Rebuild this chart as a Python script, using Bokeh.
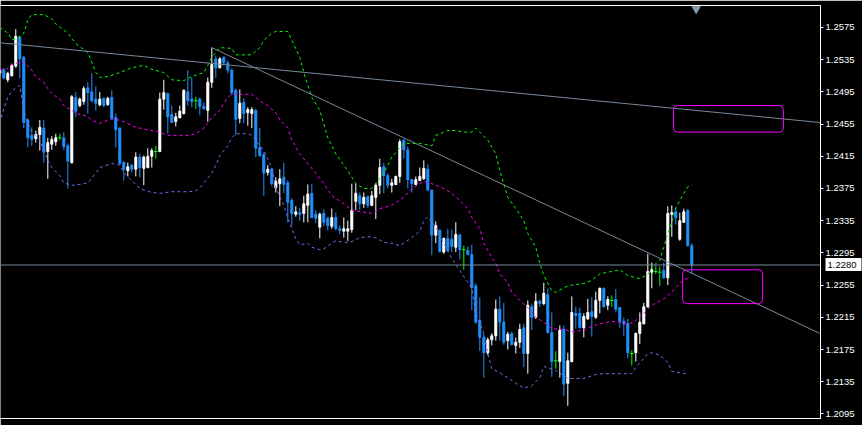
from bokeh.plotting import figure
from bokeh.models import (LinearAxis, FixedTicker, Span, BoxAnnotation,
                          ColumnDataSource, PrintfTickFormatter, Range1d)
from bokeh.embed import file_html
from bokeh.resources import INLINE

# ---------------- data ----------------
open_ = [
    1.2518, 1.2522, 1.2510, 1.2515, 1.2527, 1.2563, 1.2538, 1.2460, 1.2441, 1.2437,
    1.2442, 1.2450, 1.2421, 1.2430, 1.2433, 1.2438, 1.2438, 1.2428, 1.2407, 1.2488,
    1.2478, 1.2483, 1.2500, 1.2495, 1.2486, 1.2479, 1.2487, 1.2479, 1.2488, 1.2463,
    1.2450, 1.2407, 1.2397, 1.2404, 1.2399, 1.2414, 1.2400, 1.2401, 1.2415, 1.2421,
    1.2421, 1.2486, 1.2493, 1.2467, 1.2458, 1.2463, 1.2468, 1.2495, 1.2486, 1.2484,
    1.2486, 1.2477, 1.2472, 1.2507, 1.2536, 1.2525, 1.2538, 1.2531, 1.2522, 1.2497,
    1.2462, 1.2482, 1.2469, 1.2468, 1.2472, 1.2426, 1.2417, 1.2395, 1.2399, 1.2376,
    1.2381, 1.2389, 1.2382, 1.2360, 1.2343, 1.2345, 1.2344, 1.2354, 1.2369, 1.2343,
    1.2327, 1.2344, 1.2338, 1.2328, 1.2339, 1.2325, 1.2322, 1.2322, 1.2324, 1.2359,
    1.2366, 1.2356, 1.2365, 1.2354, 1.2364, 1.2379, 1.2402, 1.2391, 1.2379, 1.2380,
    1.2390, 1.2435, 1.2423, 1.2386, 1.2380, 1.2385, 1.2387, 1.2399, 1.2373, 1.2317,
    1.2323, 1.2296, 1.2313, 1.2312, 1.2302, 1.2317, 1.2299, 1.2298, 1.2293, 1.2254,
    1.2211, 1.2190, 1.2171, 1.2187, 1.2192, 1.2225, 1.2209, 1.2186, 1.2195, 1.2180,
    1.2184, 1.2202, 1.2170, 1.2228, 1.2215, 1.2235, 1.2232, 1.2243, 1.2196, 1.2161,
    1.2160, 1.2200, 1.2133, 1.2160, 1.2220, 1.2220, 1.2202, 1.2213, 1.2222, 1.2215,
    1.2236, 1.2251, 1.2230, 1.2236, 1.2237, 1.2227, 1.2210, 1.2207, 1.2170, 1.2171,
    1.2195, 1.2207, 1.2228, 1.2271, 1.2272, 1.2271, 1.2273, 1.2264, 1.2343, 1.2346,
    1.2312, 1.2333, 1.2348, 1.2304]

high = [
    1.2524, 1.2525, 1.2520, 1.2530, 1.2573, 1.2565, 1.2540, 1.2462, 1.2451, 1.2447,
    1.2460, 1.2460, 1.2438, 1.2440, 1.2443, 1.2443, 1.2445, 1.2431, 1.2491, 1.2495,
    1.2488, 1.2502, 1.2507, 1.2518, 1.2502, 1.2495, 1.2488, 1.2489, 1.2497, 1.2468,
    1.2451, 1.2409, 1.2407, 1.2405, 1.2420, 1.2418, 1.2416, 1.2425, 1.2425, 1.2428,
    1.2494, 1.2510, 1.2494, 1.2478, 1.2469, 1.2478, 1.2498, 1.2522, 1.2513, 1.2489,
    1.2488, 1.2482, 1.2513, 1.2550, 1.2540, 1.2538, 1.2539, 1.2534, 1.2524, 1.2499,
    1.2498, 1.2487, 1.2476, 1.2476, 1.2474, 1.2450, 1.2420, 1.2404, 1.2401, 1.2389,
    1.2399, 1.2407, 1.2385, 1.2363, 1.2353, 1.2351, 1.2366, 1.2380, 1.2381, 1.2348,
    1.2345, 1.2349, 1.2340, 1.2350, 1.2345, 1.2329, 1.2339, 1.2335, 1.2381, 1.2381,
    1.2370, 1.2370, 1.2366, 1.2372, 1.2382, 1.2412, 1.2407, 1.2394, 1.2387, 1.2391,
    1.2436, 1.2436, 1.2427, 1.2387, 1.2390, 1.2401, 1.2410, 1.2405, 1.2374, 1.2334,
    1.2324, 1.2314, 1.2325, 1.2324, 1.2333, 1.2319, 1.2304, 1.2303, 1.2305, 1.2257,
    1.2240, 1.2195, 1.2190, 1.2195, 1.2237, 1.2241, 1.2233, 1.2197, 1.2197, 1.2190,
    1.2207, 1.2207, 1.2236, 1.2232, 1.2245, 1.2237, 1.2258, 1.2251, 1.2221, 1.2173,
    1.2205, 1.2205, 1.2171, 1.2241, 1.2228, 1.2227, 1.2220, 1.2238, 1.2240, 1.2247,
    1.2252, 1.2252, 1.2241, 1.2242, 1.2250, 1.2228, 1.2215, 1.2213, 1.2174, 1.2196,
    1.2221, 1.2233, 1.2294, 1.2283, 1.2279, 1.2278, 1.2283, 1.2353, 1.2354, 1.2351,
    1.2345, 1.2350, 1.2349, 1.2307]

low = [
    1.2515, 1.2511, 1.2507, 1.2514, 1.2525, 1.2512, 1.2450, 1.2426, 1.2428, 1.2432,
    1.2422, 1.2407, 1.2387, 1.2423, 1.2428, 1.2435, 1.2423, 1.2375, 1.2406, 1.2464,
    1.2476, 1.2479, 1.2468, 1.2482, 1.2472, 1.2477, 1.2476, 1.2478, 1.2461, 1.2426,
    1.2405, 1.2385, 1.2390, 1.2395, 1.2390, 1.2389, 1.2379, 1.2400, 1.2401, 1.2412,
    1.2420, 1.2473, 1.2443, 1.2456, 1.2452, 1.2462, 1.2467, 1.2478, 1.2476, 1.2474,
    1.2466, 1.2473, 1.2458, 1.2500, 1.2512, 1.2524, 1.2528, 1.2518, 1.2491, 1.2441,
    1.2456, 1.2456, 1.2453, 1.2450, 1.2414, 1.2414, 1.2366, 1.2391, 1.2378, 1.2370,
    1.2353, 1.2369, 1.2333, 1.2329, 1.2340, 1.2335, 1.2333, 1.2333, 1.2338, 1.2332,
    1.2313, 1.2328, 1.2323, 1.2325, 1.2323, 1.2318, 1.2314, 1.2310, 1.2320, 1.2348,
    1.2348, 1.2351, 1.2351, 1.2353, 1.2337, 1.2368, 1.2369, 1.2375, 1.2370, 1.2379,
    1.2382, 1.2412, 1.2375, 1.2370, 1.2379, 1.2384, 1.2386, 1.2372, 1.2292, 1.2307,
    1.2295, 1.2294, 1.2296, 1.2296, 1.2296, 1.2287, 1.2274, 1.2292, 1.2224, 1.2207,
    1.2173, 1.2140, 1.2168, 1.2180, 1.2186, 1.2186, 1.2181, 1.2175, 1.2180, 1.2170,
    1.2177, 1.2153, 1.2145, 1.2199, 1.2213, 1.2228, 1.2230, 1.2195, 1.2141, 1.2151,
    1.2140, 1.2117, 1.2105, 1.2159, 1.2201, 1.2201, 1.2190, 1.2212, 1.2191, 1.2213,
    1.2220, 1.2227, 1.2224, 1.2228, 1.2221, 1.2202, 1.2192, 1.2164, 1.2155, 1.2160,
    1.2182, 1.2206, 1.2227, 1.2251, 1.2269, 1.2254, 1.2263, 1.2255, 1.2315, 1.2330,
    1.2310, 1.2332, 1.2303, 1.2269]

close = [
    1.2522, 1.2512, 1.2518, 1.2528, 1.2564, 1.2536, 1.2457, 1.2438, 1.2436, 1.2442,
    1.2451, 1.2420, 1.2432, 1.2436, 1.2438, 1.2438, 1.2427, 1.2409, 1.2489, 1.2471,
    1.2486, 1.2499, 1.2494, 1.2484, 1.2481, 1.2486, 1.2478, 1.2487, 1.2462, 1.2448,
    1.2406, 1.2399, 1.2402, 1.2399, 1.2414, 1.2401, 1.2414, 1.2415, 1.2422, 1.2421,
    1.2486, 1.2494, 1.2464, 1.2457, 1.2464, 1.2471, 1.2497, 1.2484, 1.2483, 1.2484,
    1.2477, 1.2474, 1.2507, 1.2529, 1.2525, 1.2536, 1.2531, 1.2522, 1.2494, 1.2461,
    1.2481, 1.2468, 1.2473, 1.2473, 1.2425, 1.2416, 1.2394, 1.2399, 1.2381, 1.2384,
    1.2387, 1.2380, 1.2358, 1.2344, 1.2346, 1.2343, 1.2356, 1.2368, 1.2339, 1.2338,
    1.2343, 1.2333, 1.2329, 1.2339, 1.2325, 1.2323, 1.2325, 1.2325, 1.2348, 1.2369,
    1.2356, 1.2364, 1.2354, 1.2366, 1.2379, 1.2401, 1.2391, 1.2379, 1.2382, 1.2390,
    1.2433, 1.2423, 1.2386, 1.2381, 1.2386, 1.2390, 1.2400, 1.2373, 1.2317, 1.2329,
    1.2297, 1.2313, 1.2298, 1.2303, 1.2318, 1.2299, 1.2299, 1.2293, 1.2252, 1.2209,
    1.2190, 1.2171, 1.2187, 1.2192, 1.2225, 1.2209, 1.2184, 1.2194, 1.2181, 1.2184,
    1.2200, 1.2170, 1.2230, 1.2215, 1.2235, 1.2232, 1.2245, 1.2196, 1.2160, 1.2161,
    1.2199, 1.2132, 1.2161, 1.2221, 1.2217, 1.2202, 1.2216, 1.2221, 1.2216, 1.2236,
    1.2251, 1.2228, 1.2237, 1.2236, 1.2225, 1.2210, 1.2207, 1.2171, 1.2170, 1.2195,
    1.2209, 1.2228, 1.2272, 1.2274, 1.2272, 1.2271, 1.2264, 1.2344, 1.2345, 1.2339,
    1.2335, 1.2346, 1.2304, 1.2280]

# Bollinger-type bands (read at selected bars)
upper_idx = [0, 2, 3, 4, 6, 7, 8, 11, 13, 14, 17, 19, 22, 23, 24, 25, 27, 30, 33, 36,
             38, 41, 43, 46, 48, 51, 52, 53, 55, 58, 59, 63, 65, 66, 68, 69, 72, 73, 75, 76,
             78, 80, 82, 84, 87, 89, 91, 93, 96, 98, 101, 105, 108, 109, 112, 114, 116, 118, 119, 122,
             124, 125, 126, 127, 129, 131, 132, 134, 135, 136, 138, 139, 141, 143, 146, 148, 150, 153, 155, 157,
             160, 162, 163, 165, 166, 167, 168, 169, 171, 172, 173]
upper_val = [1.2575, 1.2568, 1.2560, 1.2560, 1.2568, 1.2584, 1.2591, 1.2591, 1.2586, 1.2579,
             1.2568, 1.2555, 1.2544, 1.2532, 1.2519, 1.2513, 1.2514, 1.2519, 1.2525, 1.2528,
             1.2523, 1.2519, 1.2510, 1.2509, 1.2514, 1.2519, 1.2528, 1.2538, 1.2550, 1.2549,
             1.2541, 1.2541, 1.2550, 1.2559, 1.2568, 1.2570, 1.2570, 1.2559, 1.2538, 1.2519,
             1.2488, 1.2472, 1.2438, 1.2418, 1.2397, 1.2381, 1.2375, 1.2375, 1.2394, 1.2414,
             1.2431, 1.2431, 1.2428, 1.2441, 1.2447, 1.2447, 1.2445, 1.2445, 1.2450, 1.2435,
             1.2418, 1.2397, 1.2381, 1.2364, 1.2350, 1.2335, 1.2319, 1.2302, 1.2282, 1.2267,
             1.2248, 1.2246, 1.2252, 1.2255, 1.2257, 1.2261, 1.2269, 1.2272, 1.2274, 1.2267,
             1.2263, 1.2268, 1.2277, 1.2286, 1.2302, 1.2319, 1.2333, 1.2351, 1.2369, 1.2377,
             1.2379]

mid_idx = [0, 2, 3, 5, 6, 8, 9, 11, 12, 13, 15, 16, 18, 19, 21, 22, 23, 25, 26, 28,
           29, 31, 33, 34, 37, 40, 42, 47, 49, 51, 52, 53, 55, 56, 57, 58, 63, 65, 67, 69,
           70, 72, 73, 75, 77, 79, 81, 83, 86, 88, 93, 95, 98, 101, 103, 105, 106, 108, 111, 113,
           115, 117, 118, 120, 121, 123, 124, 125, 127, 128, 130, 132, 134, 136, 138, 141, 143, 146, 148, 150,
           153, 155, 157, 159, 161, 163, 166, 168, 170, 171, 172]
mid_val = [1.2522, 1.2524, 1.2529, 1.2532, 1.2532, 1.2522, 1.2514, 1.2507, 1.2499, 1.2493,
           1.2486, 1.2478, 1.2472, 1.2468, 1.2466, 1.2464, 1.2460, 1.2456, 1.2458, 1.2461,
           1.2461, 1.2458, 1.2453, 1.2451, 1.2448, 1.2445, 1.2441, 1.2441, 1.2443, 1.2450,
           1.2456, 1.2463, 1.2472, 1.2481, 1.2488, 1.2492, 1.2492, 1.2484, 1.2478, 1.2469,
           1.2460, 1.2450, 1.2435, 1.2418, 1.2406, 1.2394, 1.2381, 1.2366, 1.2356, 1.2348,
           1.2344, 1.2350, 1.2354, 1.2364, 1.2375, 1.2381, 1.2384, 1.2381, 1.2375, 1.2369,
           1.2360, 1.2350, 1.2339, 1.2325, 1.2307, 1.2289, 1.2282, 1.2269, 1.2258, 1.2246,
           1.2236, 1.2227, 1.2215, 1.2209, 1.2201, 1.2200, 1.2197, 1.2199, 1.2204, 1.2207,
           1.2210, 1.2209, 1.2206, 1.2211, 1.2220, 1.2230, 1.2238, 1.2246, 1.2257, 1.2262,
           1.2263]

lower_idx = [0, 1, 2, 3, 4, 5, 6, 7, 8, 10, 11, 12, 13, 15, 16, 18, 20, 22, 24, 25,
             28, 30, 31, 33, 35, 38, 40, 43, 47, 49, 50, 51, 53, 54, 55, 57, 58, 59, 62, 63,
             64, 66, 68, 69, 71, 72, 73, 74, 75, 77, 78, 80, 81, 83, 84, 86, 88, 90, 92, 94,
             96, 98, 100, 101, 103, 105, 106, 107, 109, 111, 113, 115, 118, 119, 121, 122, 123, 125, 127, 129,
             131, 133, 135, 136, 139, 142, 146, 149, 151, 158, 159, 161, 162, 163, 165, 167, 168, 171, 172]
lower_val = [1.2456, 1.2474, 1.2488, 1.2496, 1.2500, 1.2503, 1.2472, 1.2456, 1.2445, 1.2435,
             1.2422, 1.2410, 1.2401, 1.2391, 1.2382, 1.2379, 1.2380, 1.2382, 1.2394, 1.2401,
             1.2406, 1.2404, 1.2395, 1.2385, 1.2375, 1.2370, 1.2369, 1.2371, 1.2371, 1.2372,
             1.2376, 1.2382, 1.2394, 1.2404, 1.2416, 1.2428, 1.2438, 1.2443, 1.2443, 1.2441,
             1.2435, 1.2422, 1.2401, 1.2376, 1.2354, 1.2338, 1.2325, 1.2313, 1.2305, 1.2307,
             1.2302, 1.2299, 1.2300, 1.2307, 1.2310, 1.2308, 1.2309, 1.2314, 1.2315, 1.2314,
             1.2308, 1.2307, 1.2304, 1.2307, 1.2314, 1.2322, 1.2335, 1.2340, 1.2327, 1.2307,
             1.2288, 1.2273, 1.2251, 1.2220, 1.2195, 1.2170, 1.2151, 1.2146, 1.2140, 1.2133,
             1.2127, 1.2130, 1.2140, 1.2154, 1.2149, 1.2139, 1.2139, 1.2144, 1.2145, 1.2145,
             1.2153, 1.2164, 1.2170, 1.2171, 1.2168, 1.2159, 1.2148, 1.2145, 1.2146]

# drawn objects
trend1_idx = [0, 205]
trend1_val = [1.2556, 1.2457]
trend2_idx = [53, 205]
trend2_val = [1.2550, 1.2195]
last_price = 1.2280
box1 = dict(left=168.4, right=195.9, top=1.2478, bottom=1.2445)
box2 = dict(left=170.7, right=190.7, top=1.2274, bottom=1.2232)
price_ticks = [1.2095, 1.2135, 1.2175, 1.2215, 1.2255, 1.2295, 1.2335,
               1.2375, 1.2415, 1.2455, 1.2495, 1.2535, 1.2575]

# ---------------- styling ----------------
BULL = "#FFFFFF"
BEAR = "#1E90FF"
DOJI = "#00FF00"
UPPER = "#00FF00"
MID = "#FF00FF"
LOWER = "#7B68EE"
GREY = "#778899"
FONT = "Liberation Sans"
FSIZE = "9.5px"

X0, X1 = 0.175, 205.175
Y0, Y1 = 1.20893, 1.26023

p = figure(width=862, height=425, output_backend="svg", toolbar_location=None,
           x_range=Range1d(X0, X1), y_range=Range1d(Y0, Y1),
           x_axis_location=None, y_axis_location="right",
           min_border_left=0, min_border_top=5, min_border_bottom=7, min_border_right=42,
           background_fill_color="black", border_fill_color="black",
           outline_line_color=None)
p.grid.visible = False

# right price axis
ya = p.yaxis[0]
ya.ticker = FixedTicker(ticks=price_ticks)
ya.formatter = PrintfTickFormatter(format="%.4f")
ya.axis_line_color = "white"
ya.major_tick_line_color = "white"
ya.major_tick_out = 3
ya.major_tick_in = 0
ya.minor_tick_line_color = None
ya.major_label_standoff = 2
ya.major_label_text_color = "white"
ya.major_label_text_font = FONT
ya.major_label_text_font_size = FSIZE

# current-price marker on the scale: a second right axis with one thick white tick
pa = LinearAxis(ticker=FixedTicker(ticks=[last_price]),
                formatter=PrintfTickFormatter(format="%.4f"),
                axis_line_color=None, major_tick_line_color="white",
                major_tick_line_width=13, major_tick_in=32, major_tick_out=4,
                minor_tick_line_color=None, major_label_standoff=-34,
                major_label_text_color="black", major_label_text_font=FONT,
                major_label_text_font_size=FSIZE)
p.add_layout(pa, "right")


def frame_line_axis(tick_out=0):
    return LinearAxis(ticker=FixedTicker(ticks=[]), axis_line_color="white",
                      major_tick_out=tick_out, major_tick_in=0, minor_tick_out=0,
                      minor_tick_in=0, major_label_standoff=0,
                      major_label_text_font_size="0px", axis_label=None)


p.add_layout(frame_line_axis(), "above")
p.add_layout(frame_line_axis(2), "below")
p.add_layout(frame_line_axis(0), "below")

# candles
n = len(close)
idx = list(range(n))
bull = [i for i in idx if close[i] > open_[i]]
bear = [i for i in idx if close[i] < open_[i]]
doji = [i for i in idx if close[i] == open_[i]]


def source(sel):
    return ColumnDataSource(dict(
        x=sel,
        h=[high[i] for i in sel], l=[low[i] for i in sel],
        top=[max(open_[i], close[i]) for i in sel],
        bottom=[min(open_[i], close[i]) for i in sel],
        xl=[i - 0.45 for i in sel], xr=[i + 0.45 for i in sel],
        o=[open_[i] for i in sel]))


for sel, col in ((bull, BULL), (bear, BEAR)):
    s = source(sel)
    p.segment(x0="x", y0="l", x1="x", y1="h", source=s, line_color=col, line_width=1)
    p.vbar(x="x", width=0.5, top="top", bottom="bottom", source=s,
           fill_color=col, line_color=col, line_width=1)

sd = source(doji)
p.segment(x0="x", y0="l", x1="x", y1="h", source=sd, line_color=DOJI, line_width=1)
p.segment(x0="xl", y0="o", x1="xr", y1="o", source=sd, line_color=DOJI, line_width=1)

# bands
p.line(upper_idx, upper_val, line_color=UPPER, line_width=1, line_dash="3 3")
p.line(mid_idx, mid_val, line_color=MID, line_width=1, line_dash="3 3")
p.line(lower_idx, lower_val, line_color=LOWER, line_width=1, line_dash="3 3")

# trend lines and price line
p.line(trend1_idx, trend1_val, line_color=GREY, line_width=1)
p.line(trend2_idx, trend2_val, line_color=GREY, line_width=1)
p.add_layout(Span(location=last_price, dimension="width", line_color=GREY, line_width=1))

# drawn rectangles
for b in (box1, box2):
    p.add_layout(BoxAnnotation(left=b["left"], right=b["right"], top=b["top"], bottom=b["bottom"],
                               fill_alpha=0, line_color=MID, line_alpha=1.0, line_width=1,
                               border_radius=4))

# chart shift marker
p.scatter(x=[n + 0.1], y=[Y1 - 3.5 / 8050], marker="inverted_triangle", size=8,
          fill_color="#8A9AAA", line_color="#8A9AAA")

open("out.html", "w").write(file_html(p, INLINE))
